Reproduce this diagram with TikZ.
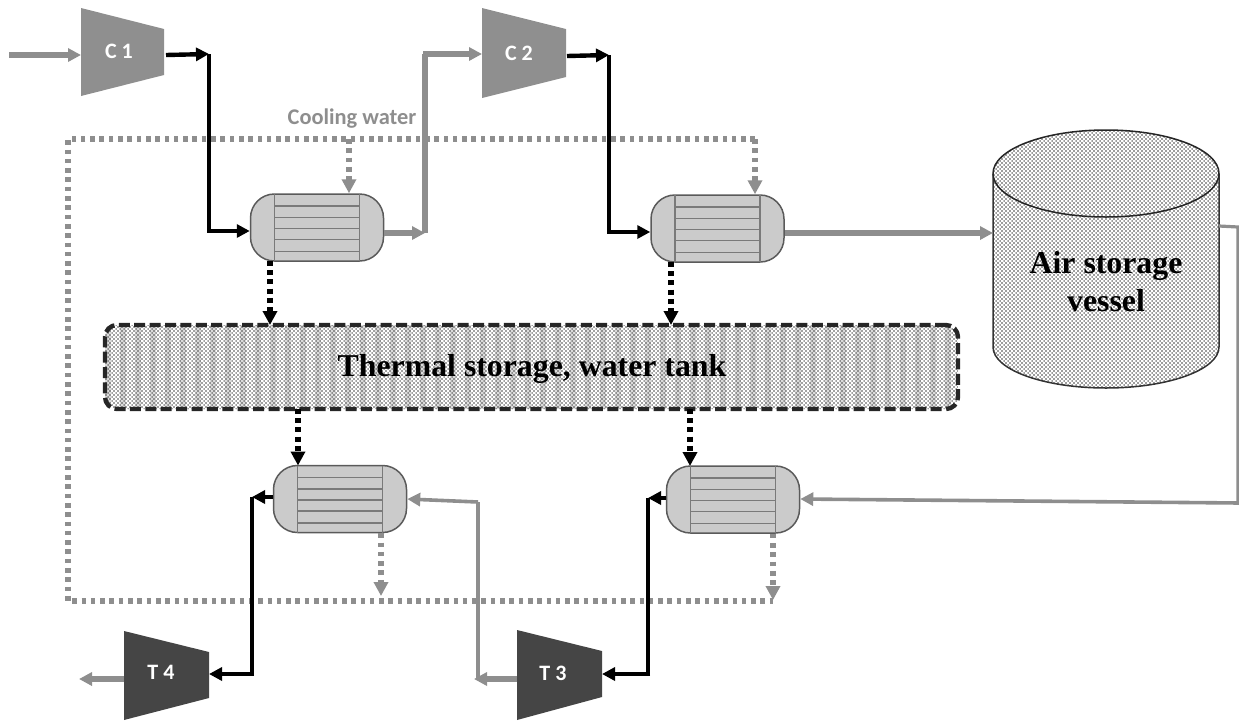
\documentclass[tikz,border=0pt]{standalone}
\usepackage{fontspec}
\setmainfont{Liberation Serif}
\newfontfamily\lblfont{Carlito}
\usetikzlibrary{arrows.meta,patterns}
\definecolor{flowgray}{HTML}{8E8E8E}
\definecolor{compgray}{HTML}{8F8F8F}
\definecolor{turbgray}{HTML}{454545}
\definecolor{hxfill}{HTML}{CBCBCB}
\definecolor{hxline}{HTML}{7A7A7A}
\definecolor{hxedge}{HTML}{5A5A5A}
\pgfdeclarepatternformonly{finedots}{\pgfqpoint{-0.5pt}{-0.5pt}}{\pgfqpoint{3.5pt}{3.5pt}}{\pgfqpoint{4pt}{4pt}}{%
  \pgfpathcircle{\pgfqpoint{0pt}{0pt}}{0.95pt}
  \pgfpathcircle{\pgfqpoint{2pt}{2pt}}{0.95pt}
  \pgfusepath{fill}}
\tikzset{
  gflow/.style={draw=flowgray,line width=5.2pt},
  bflow/.style={draw=black,line width=4.4pt},
  garrow/.style={gflow,-{Triangle[length=13pt,width=13pt]}},
  barrow/.style={bflow,-{Triangle[length=13pt,width=13pt]}},
  gdots/.style={draw=flowgray,line width=5.2pt,dash pattern=on 4.6pt off 4.7pt},
  bdots/.style={draw=black,line width=5.4pt,dash pattern=on 5pt off 4.2pt},
  gdotarrow/.style={gdots,-{Triangle[length=14pt,width=14pt]}},
  bdotarrow/.style={bdots,-{Triangle[length=14pt,width=14pt]}},
  hxbox/.style={draw=hxedge,fill=hxfill,line width=1.5pt,rounded corners=24pt,minimum width=133pt,minimum height=67pt,inner sep=0pt},
  hxtube/.style={draw=hxline,line width=1.7pt},
  complabel/.style={text=white,font=\lblfont\bfseries\fontsize{22}{24}\selectfont,inner sep=0pt},
  bigtext/.style={font=\bfseries\fontsize{31.8}{38}\selectfont,text=black,inner sep=0pt,align=center},
}
\newcommand{\hxunit}[3]{%
  \node[hxbox] (#1) at (#2,#3) {};
  \begin{scope}[shift={(#2,#3)}]
    \draw[hxtube] (-42.5,-33.5) -- (-42.5,33.5);
    \draw[hxtube] (42.5,-33.5) -- (42.5,33.5);
    \foreach \yy in {-21.5,-10,1,12,24}
      \draw[hxtube] (-42.5,\yy) -- (42.5,\yy);
  \end{scope}}
\begin{document}
\begin{tikzpicture}[x=1pt,y=-1pt]
\useasboundingbox (0,0) rectangle (1239,721);

% ---- vessel
\path[pattern=finedots,pattern color=black!78] (993,173.5) -- (993,347) arc[start angle=180,end angle=0,x radius=113,y radius=41] -- (1219,173.5) arc[start angle=0,end angle=-180,x radius=113,y radius=43.5] -- cycle;
\draw[line width=1.5pt,draw=black!80] (993,173.5) -- (993,347) arc[start angle=180,end angle=0,x radius=113,y radius=41] -- (1219,173.5);
\draw[line width=1.5pt,draw=black!85] (1106,173.5) ellipse[x radius=113,y radius=43.5];
\node[bigtext] (vessel) at (1106,282) {Air storage\\vessel};
\coordinate (vesselin) at (993,233);
\coordinate (vesselout) at (1219,226);

% ---- thermal store
\begin{scope}
  \clip[rounded corners=12pt] (105,325) rectangle (958,409);
  \foreach \xx in {105,120,...,960}
    \fill[black!14] (\xx,325) rectangle (\xx+6,409);
  \path[pattern=finedots,pattern color=black!74] (105,325) rectangle (958,409);
\end{scope}
\node[draw=black!85,line width=4.4pt,dash pattern=on 11pt off 4.4pt,rounded corners=12pt,minimum width=853pt,minimum height=84pt,inner sep=0pt] (tank) at (531.5,367) {};
\node[bigtext] (tanklabel) at (532,369) {Thermal storage, water tank};

% ---- loop of cooling water (under the air lines)
\coordinate (tr) at (755,139);
\coordinate (tl) at (68,139);
\coordinate (bl) at (68,601);
\coordinate (br) at (773,601);
\coordinate (tm) at (349,139);
\coordinate (bm) at (381,601);

% ---- heat exchangers
\hxunit{hxa}{317}{227.5}
\hxunit{hxb}{717.5}{228.5}
\hxunit{hxc}{340}{499}
\hxunit{hxd}{733}{499.5}

\draw[gdots] (tr) -- (tl) -- (bl) -- (br);
\draw[gdotarrow] (tm) -- (tm |- hxa.north);
\draw[gdotarrow] (tr) -- (tr |- hxb.north);
\draw[gdotarrow] (bm |- hxc.south) -- (381,596);
\draw[gdotarrow] (br |- hxd.south) -- (773,600);

% ---- machines
\fill[compgray] (81,8) -- (164,29) -- (164,75) -- (81,96) -- cycle;
\node[complabel] (c1) at (119,51) {C 1};
\coordinate (c1in) at (81,55);
\coordinate (c1out) at (166,55);
\fill[compgray] (482,8) -- (566,29) -- (566,77) -- (482,98) -- cycle;
\node[complabel] (c2) at (519,53) {C 2};
\coordinate (c2in) at (482,54);
\coordinate (c2out) at (567,56);
\fill[turbgray] (517,630) -- (602,651) -- (602,697) -- (517,720) -- cycle;
\node[complabel] (t3) at (553,673) {T 3};
\coordinate (t3in) at (602,674);
\coordinate (t3out) at (517,679);
\fill[turbgray] (124,631) -- (209,652) -- (209,698) -- (124,720) -- cycle;
\node[complabel] (t4) at (161,672) {T 4};
\coordinate (t4in) at (209,674);
\coordinate (t4out) at (124,679);

% ---- free ends and bends
\coordinate (start) at (9,55);
\coordinate (end) at (79,679);
\coordinate (a1) at (209,54);
\coordinate (a2) at (209,231);
\coordinate (a3) at (425,233);
\coordinate (a4) at (425,54);
\coordinate (b1) at (609,55);
\coordinate (b2) at (609,232);
\coordinate (v1) at (1238,227);
\coordinate (v2) at (1238,503);
\coordinate (d1) at (648,498);
\coordinate (d2) at (648,674);
\coordinate (e1) at (252,497);
\coordinate (e2) at (252,674);
\coordinate (f1) at (478,502);
\coordinate (f2) at (478,679);

% ---- air lines
\draw[garrow] (start) -- (c1in);
\draw[barrow] (c1out) -- (a1);
\draw[bflow] (a1) -- (a2);
\draw[barrow] (207,231) -- (hxa.west |- a2);
\draw[garrow] (hxa.east |- a3) -- (a3);
\draw[gflow] (a3) -- (a4);
\draw[garrow] (423,54) -- (c2in);
\draw[barrow] (c2out) -- (b1);
\draw[bflow] (b1) -- (b2);
\draw[barrow] (607,232) -- (hxb.west |- b2);
\draw[garrow] (hxb.east |- vesselin) -- (vesselin);
\draw[gflow,line width=3.2pt] (vesselout) -- (v1) -- (v2);
\draw[garrow,line width=3.6pt] (1240,503) -- (hxd.east |- 0,499);
\draw[barrow] (hxd.west |- d1) -- (d1);
\draw[bflow] (d1) -- (d2);
\draw[barrow] (650,674) -- (t3in);
\draw[barrow] (hxc.west |- e1) -- (e1);
\draw[bflow] (e1) -- (e2);
\draw[barrow] (254,674) -- (t4in);
\draw[garrow,line width=3.6pt] (f1) -- (hxc.east |- 0,499);
\draw[gflow,line width=3.6pt] (f1) -- (f2);
\draw[garrow] (t3out) -- (474,679);
\draw[garrow] (t4out) -- (end);

% ---- heat links
\draw[bdotarrow] (270,261) -- (270,325);
\draw[bdotarrow] (671,262) -- (671,325);
\draw[bdotarrow] (298,409) -- (298,465.5);
\draw[bdotarrow] (690,409) -- (690,466);

\node[text=flowgray,font=\lblfont\bfseries\fontsize{22.4}{24}\selectfont,inner sep=0pt] (cw) at (352,119) {Cooling water};
\end{tikzpicture}
\end{document}
